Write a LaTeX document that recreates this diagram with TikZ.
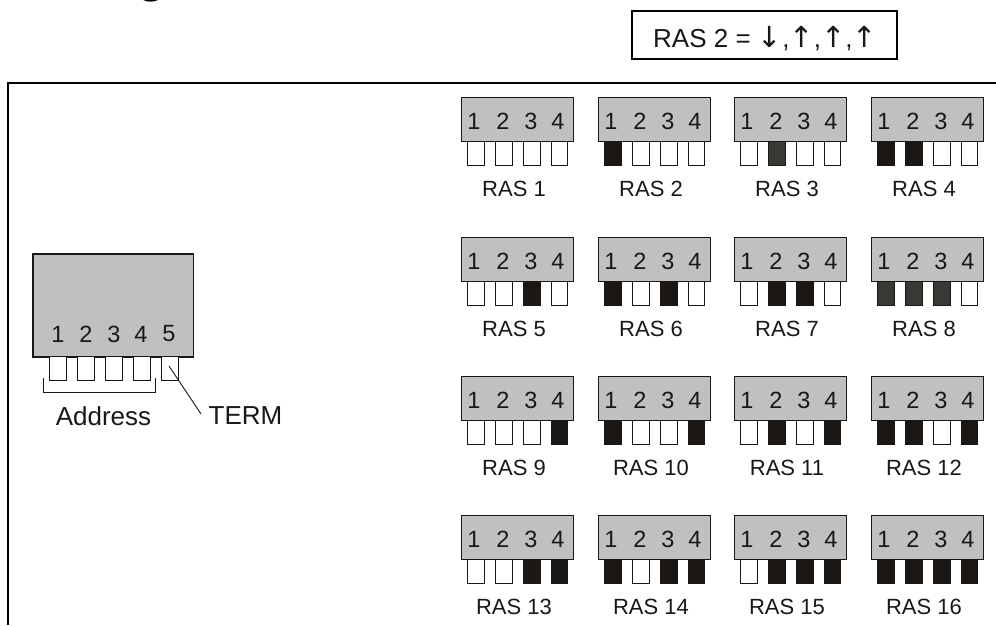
\documentclass[tikz,border=0pt]{standalone}
\usepackage{fontspec}
\setmainfont{Liberation Sans}
\newfontfamily\arrowfont{DejaVu Sans}
\definecolor{ink}{HTML}{1A1715}
\definecolor{dimink}{HTML}{3A3835}
\definecolor{bodygray}{HTML}{C0C0C0}
\tikzset{
  bodybox/.style={draw=ink,fill=bodygray,line width=1.3pt},
  swoff/.style={draw=ink,fill=white,line width=1.2pt},
  swon/.style={draw=ink,fill=ink,line width=1.2pt},
  swdim/.style={draw=ink,fill=dimink,line width=1.2pt},
  lab/.style={inner sep=0pt,font=\fontsize{22}{24}\selectfont,text=ink,anchor=center},
  digit/.style={inner sep=0pt,font=\fontsize{23.5}{24}\selectfont,text=ink,anchor=center},
  biglab/.style={inner sep=0pt,font=\fontsize{26}{28}\selectfont,text=ink,anchor=center},
  frameline/.style={draw=black,line width=2pt},
}
\newcommand{\arw}[1]{{\arrowfont\fontsize{29}{29}\selectfont #1}}
\begin{document}
\begin{tikzpicture}[x=1pt,y=-1pt]
\useasboundingbox (0,0) rectangle (996,625);
% cut-off heading descender
\begin{scope}
\clip (0,0) rectangle (996,625);
\node[inner sep=0pt,anchor=base,font=\fontsize{50}{50}\selectfont\bfseries,text=black] (heading) at (152,-8.5) {g};
\end{scope}
% frame
\coordinate (frameTL) at (8,82.5);
\coordinate (frameTR) at (996,82.5);
\coordinate (frameBL) at (8,625);
\draw[frameline] (frameBL) -- (frameTL) -- (frameTR);
% legend
\node[draw=black,line width=1.5pt,fill=white,minimum width=265pt,minimum height=48pt,inner sep=0pt] (legend) at (764.5,35) {};
\node[biglab,anchor=base west] (legendtext) at (653,47) {RAS 2 = \arw{↓},\arw{↑},\arw{↑},\arw{↑}};
% terminal block
\node[bodybox,line width=1.6pt,minimum width=160.5pt,minimum height=103pt,inner sep=0pt,anchor=north west] (main) at (32,253) {};
\foreach \i/\sx/\dx in {1/49/58,2/77/86,3/105/114,4/133/141,5/161/169}{
  \node[swoff,minimum width=16.5pt,minimum height=24pt,inner sep=0pt,anchor=north west] (msw\i) at (\sx,356) {};
  \node[digit] (md\i) at (\dx,334) {\i};
}
\coordinate (brA) at (43.5,378);
\coordinate (brB) at (43.5,392);
\coordinate (brC) at (155,392);
\coordinate (brD) at (155,378);
\draw[ink,line width=0.9pt] (brA) -- (brB) -- (brC) -- (brD);
\node[biglab] (address) at (103.5,416) {Address};
\node[biglab] (term) at (245.5,416) {TERM};
\coordinate (termfrom) at (169,366);
\coordinate (termto) at (201,414);
\draw[ink,line width=0.9pt] (termfrom) -- (termto);
% RAS blocks: number / column x / row y / styles of the four switches
\foreach \n/\bx/\by/\sa/\sb/\sc/\sd in {
 1/461/97/swoff/swoff/swoff/swoff, 2/598/97/swon/swoff/swoff/swoff, 3/734/97/swoff/swdim/swoff/swoff, 4/871/97/swon/swon/swoff/swoff,
 5/461/237/swoff/swoff/swon/swoff, 6/598/237/swon/swoff/swon/swoff, 7/734/237/swoff/swon/swon/swoff, 8/871/237/swdim/swdim/swdim/swoff,
 9/461/376/swoff/swoff/swoff/swon, 10/598/376/swon/swoff/swoff/swon, 11/734/376/swoff/swon/swoff/swon, 12/871/376/swon/swon/swoff/swon,
 13/461/515/swoff/swoff/swon/swon, 14/598/515/swon/swoff/swon/swon, 15/734/515/swoff/swon/swon/swon, 16/871/515/swon/swon/swon/swon}{
  \node[bodybox,minimum width=112pt,minimum height=44pt,inner sep=0pt,anchor=north west] (b\n) at (\bx,\by) {};
  \foreach \k/\off/\dg/\st in {1/6/13/\sa,2/34/42/\sb,3/62/70/\sc,4/89.5/97/\sd}{
    \node[\st,minimum width=16.5pt,minimum height=24pt,inner sep=0pt,anchor=north west] (s\n-\k) at (\bx+\off,\by+44) {};
    \node[digit] (d\n-\k) at (\bx+\dg,\by+24) {\k};
  }
  \node[lab] (t\n) at (\bx+53,\by+92) {RAS \n};
}
\end{tikzpicture}
\end{document}
